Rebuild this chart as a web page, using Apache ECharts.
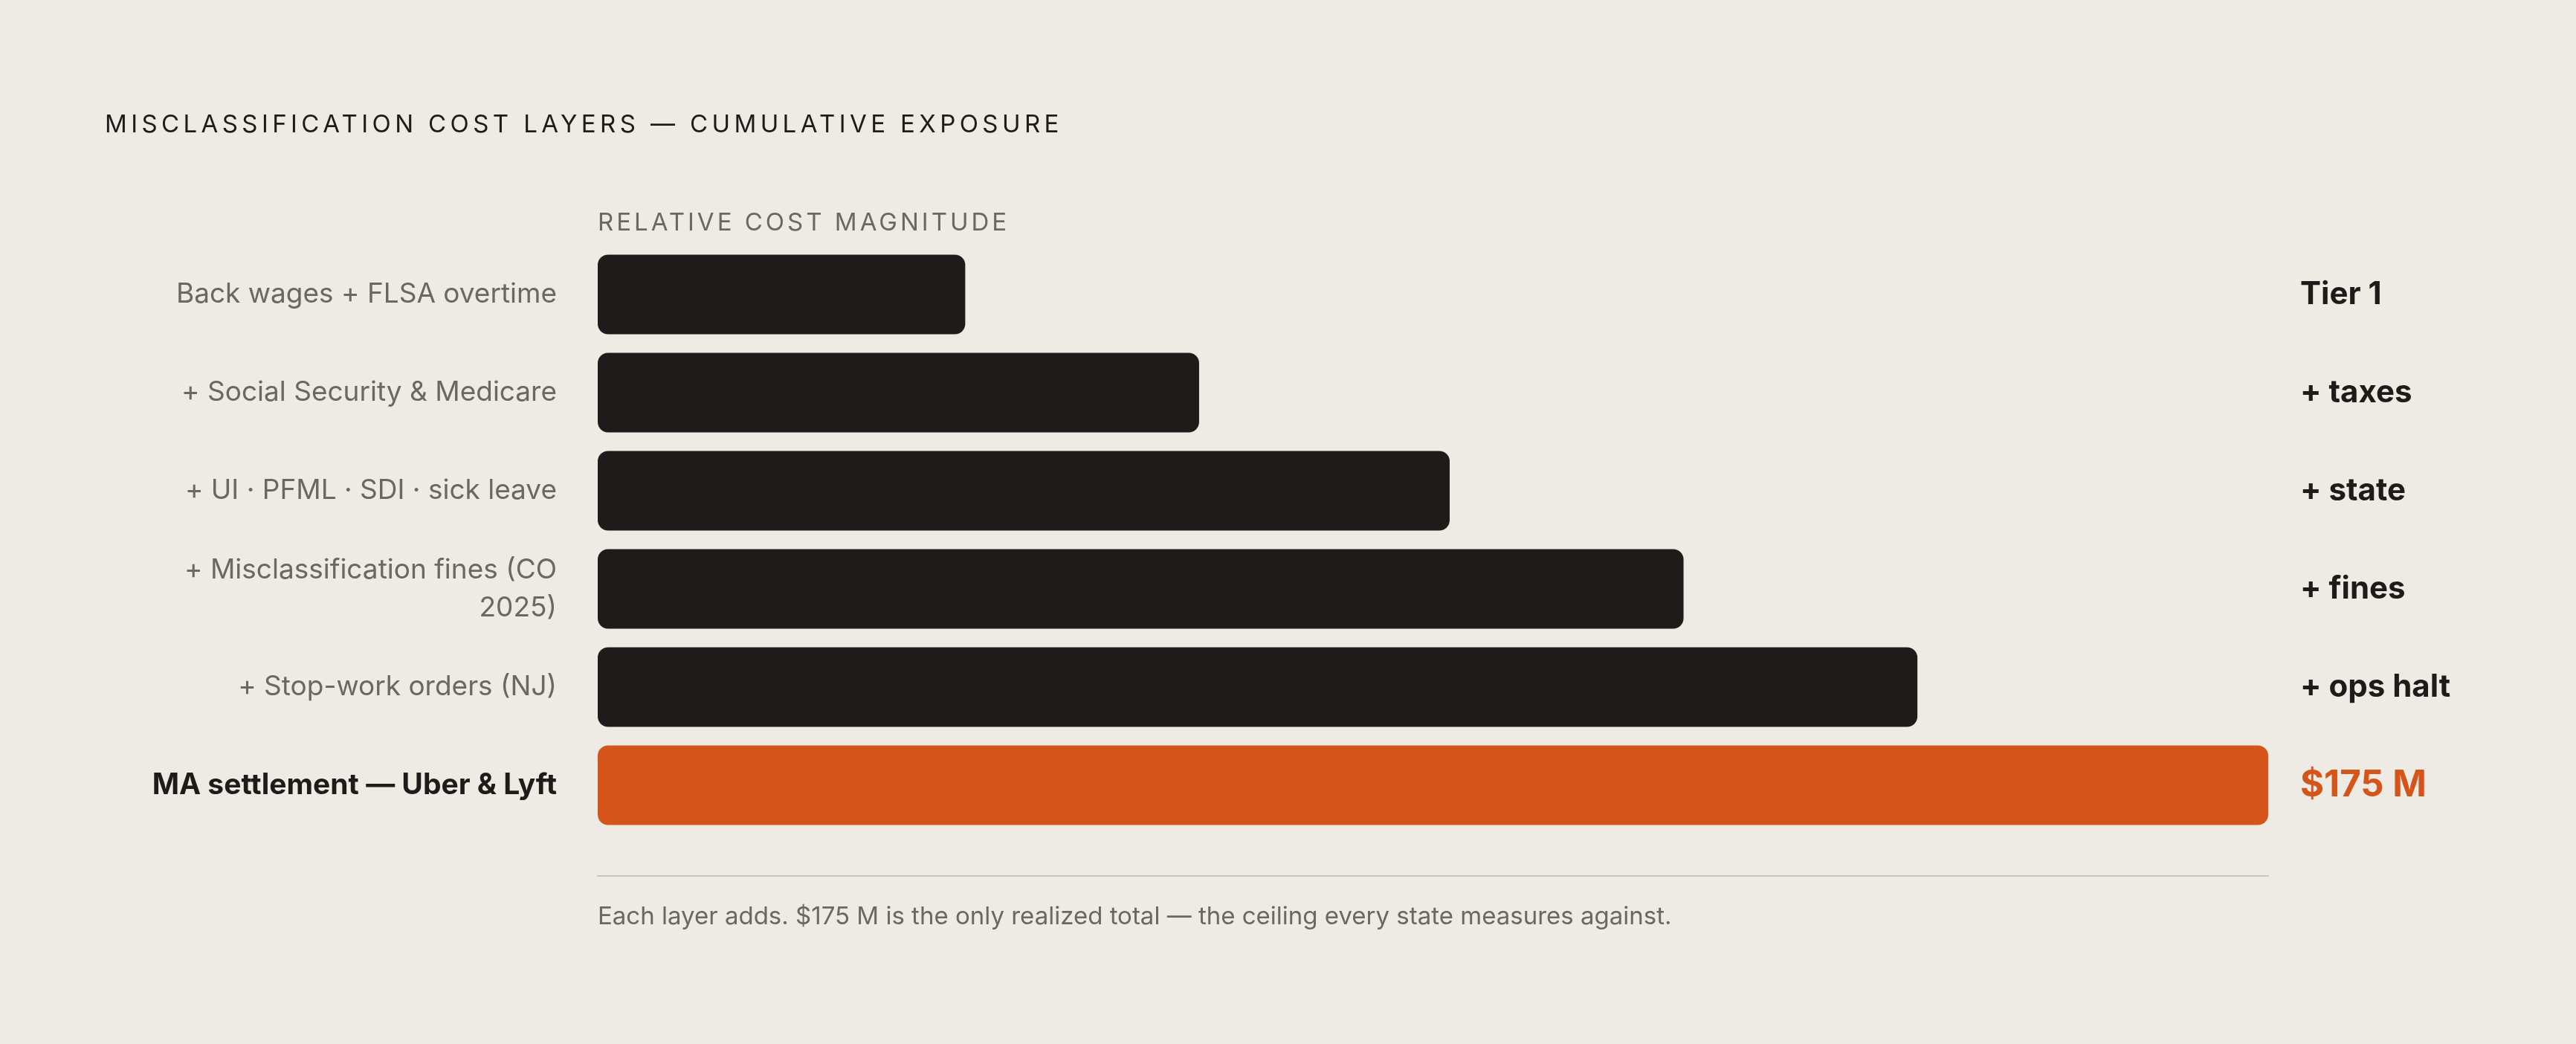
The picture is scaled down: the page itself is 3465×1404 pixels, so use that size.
<!DOCTYPE html>
<html>
<head>
<meta charset="utf-8">
<title>Misclassification cost layers</title>
<script src="https://cdn.jsdelivr.net/npm/echarts@6.0.0/dist/echarts.min.js"></script>
<style>
  html, body { margin: 0; padding: 0; background: #eeebe4; }
  #wrap { position: relative; width: 3465px; height: 1404px; }
  #chart { position: absolute; left: 0; top: 0; width: 3465px; height: 1404px; }
  .caps { position: absolute; font-family: Inter, "Noto Sans", sans-serif; line-height: 1; white-space: nowrap; z-index: 2; }
  #title { left: 141px; top: 150px; font-size: 33px; color: #1d1c1a; letter-spacing: 5.4px; }
  #axisName { left: 804px; top: 282px; font-size: 33px; color: #6b6862; letter-spacing: 4px; }
</style>
</head>
<body>
<div id="wrap">
  <div id="chart"></div>
  <div id="title" class="caps">MISCLASSIFICATION COST LAYERS — CUMULATIVE EXPOSURE</div>
  <div id="axisName" class="caps">RELATIVE COST MAGNITUDE</div>
</div>
<script>
const layers = [
  'Back wages + FLSA overtime',
  '+ Social Security & Medicare',
  '+ UI · PFML · SDI · sick leave',
  '+ Misclassification fines (CO\n2025)',
  '+ Stop-work orders (NJ)',
  'MA settlement — Uber & Lyft'
]
const tiers = ['Tier 1', '+ taxes', '+ state', '+ fines', '+ ops halt', '$175 M']
const magnitude = [22, 36, 51, 65, 79, 100]
const footnote = 'Each layer adds. $175 M is the only realized total — the ceiling every state measures against.'

const dark = '#1d1c1a'
const grey = '#6b6862'
const orange = '#d4541a'
const font = 'Inter, "Noto Sans", sans-serif'
const last = layers.length - 1

const chart = echarts.init(document.getElementById('chart'))
chart.setOption({
  backgroundColor: '#eeebe4',
  animation: false,
  title: {
    text: footnote,
    left: 804,
    top: 1217,
    padding: 0,
    textStyle: { fontFamily: font, fontSize: 33, fontWeight: 'normal', color: grey }
  },
  grid: { left: 804, right: 414, top: 330, bottom: 282 },
  xAxis: {
    type: 'value',
    min: 0,
    max: 100,
    offset: 56,
    splitLine: { show: false },
    axisTick: { show: false },
    axisLabel: { show: false },
    axisLine: { show: true, lineStyle: { color: '#c8c4bc', width: 2 } }
  },
  yAxis: [{
    type: 'category',
    inverse: true,
    data: layers,
    axisLine: { show: false },
    axisTick: { show: false },
    axisLabel: {
      margin: 55,
      fontFamily: font,
      fontSize: 37,
      lineHeight: 51,
      color: grey,
      align: 'right',
      formatter: (v, i) => i === last ? '{hl|' + v + '}' : v,
      rich: {
        hl: { fontFamily: font, fontSize: 39, fontWeight: 'bold', color: dark }
      }
    }
  }, {
    type: 'category',
    inverse: true,
    position: 'right',
    data: tiers,
    axisLine: { show: false },
    axisTick: { show: false },
    axisLabel: {
      margin: 43,
      fontFamily: font,
      fontSize: 42,
      fontWeight: 'bold',
      color: dark,
      align: 'left',
      formatter: (v, i) => i === last ? '{total|' + v + '}' : v,
      rich: {
        total: { fontFamily: font, fontSize: 49, fontWeight: 'bold', color: orange }
      }
    }
  }],
  series: [{
    type: 'bar',
    yAxisIndex: 0,
    barWidth: 107,
    data: magnitude.map((v, i) => ({
      value: v,
      itemStyle: { color: i === last ? orange : dark, borderRadius: 14 }
    }))
  }]
})
</script>
</body>
</html>
